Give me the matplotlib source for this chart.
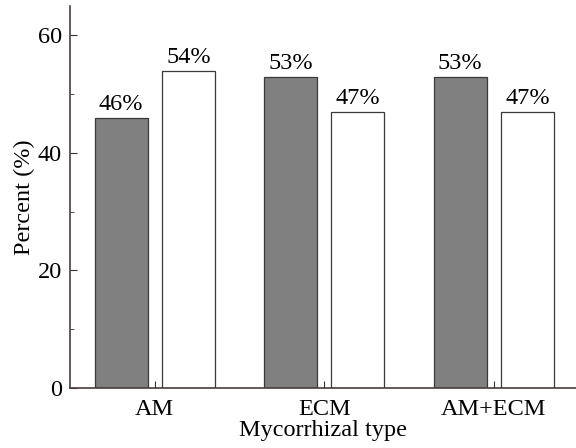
import matplotlib
matplotlib.use("Agg")
import matplotlib.pyplot as plt
from matplotlib.ticker import MultipleLocator
import numpy as np

categories = ["AM", "ECM", "AM+ECM"]
series_a = [46, 53, 53]   # gray bars
series_b = [54, 47, 47]   # white bars

plt.rcParams["font.family"] = ["Liberation Serif", "DejaVu Serif"]
FS = 17.5

fig = plt.figure(figsize=(5.76, 4.48), dpi=100)
ax = fig.add_axes([70 / 576, 60 / 448, 506 / 576, 382 / 448])

x = np.arange(len(categories))
w = 0.313
off = 0.198
edge = "#3a3a3a"
b1 = ax.bar(x - off, series_a, w, color="#808080", edgecolor=edge, linewidth=0.9)
b2 = ax.bar(x + off, series_b, w, color="white", edgecolor=edge, linewidth=0.9)

for bars, vals in ((b1, series_a), (b2, series_b)):
    for r, v in zip(bars, vals):
        ax.text(r.get_x() + r.get_width() / 2, v + 0.4, f"{v}%",
                ha="center", va="bottom", fontsize=FS)

ax.set_xlim(-0.5, 2.485)
ax.set_ylim(0, 65)
ax.set_xticks(x)
ax.set_xticklabels(categories)
ax.yaxis.set_major_locator(MultipleLocator(20))
ax.yaxis.set_minor_locator(MultipleLocator(10))
ax.tick_params(axis="both", which="both", direction="in", labelsize=FS, colors="#3a3030",
               labelcolor="black")
ax.tick_params(axis="both", which="major", length=5)
ax.tick_params(axis="y", which="minor", length=3)
ax.tick_params(axis="x", pad=8)
ax.tick_params(axis="y", pad=6)

for s in ("top", "right"):
    ax.spines[s].set_visible(False)
for s in ("left", "bottom"):
    ax.spines[s].set_color("#4a3c3c")
    ax.spines[s].set_linewidth(1.2)

ax.set_ylabel("Percent (%)", fontsize=FS, labelpad=2)
ax.set_xlabel("Mycorrhizal type", fontsize=FS, labelpad=0)

fig.savefig("out.png", dpi=100)
